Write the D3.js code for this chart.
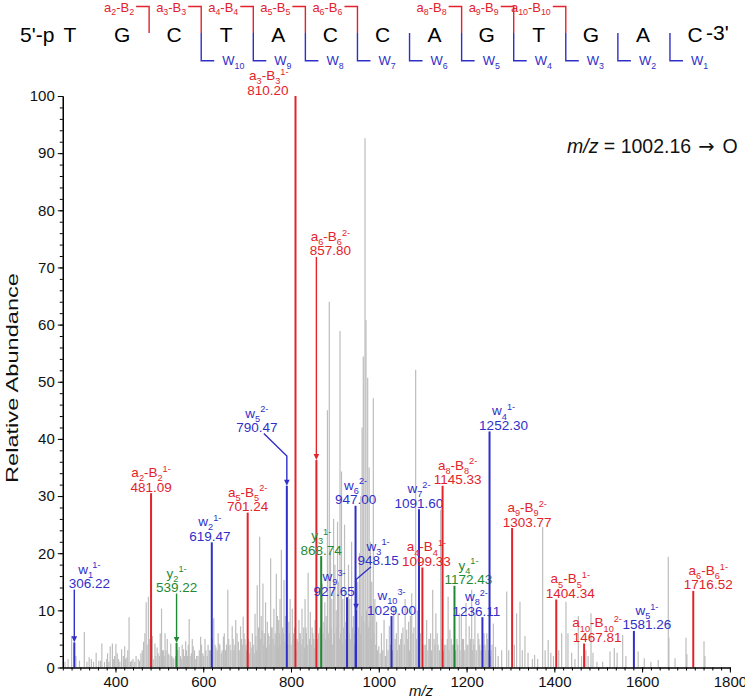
<!DOCTYPE html>
<html><head><meta charset="utf-8">
<script src="https://cdn.jsdelivr.net/npm/d3@7"></script>
<style>body{margin:0;background:#fff} svg{display:block;font-family:"Liberation Sans",Arial,sans-serif}</style>
</head><body><svg id="c" width="745" height="699"></svg>
<script>
// ---------------- data ----------------
const sequence = ["T","G","C","T","A","C","C","A","G","T","G","A","C"];
const aBreaks = [2,3,4,5,6,8,9,10];          // a_n-B_n cleavage after nucleotide n
const wBreaks = [10,9,8,7,6,5,4,3,2,1];      // w_n fragments
const xTicks = [400,600,800,1000,1200,1400,1600,1800];
const yTicks = [0,10,20,30,40,50,60,70,80,90,100];

const ionNames = ["w_{1}^{1-}","a_{2}-B_{2}^{1-}","y_{2}^{1-}","w_{2}^{1-}","a_{5}-B_{5}^{2-}","w_{5}^{2-}",
  "a_{3}-B_{3}^{1-}","a_{6}-B_{6}^{2-}","y_{3}^{1-}","w_{9}^{3-}","w_{6}^{2-}","w_{3}^{1-}","w_{10}^{3-}",
  "w_{7}^{2-}","a_{4}-B_{4}^{1-}","a_{8}-B_{8}^{2-}","y_{4}^{1-}","w_{8}^{2-}","w_{4}^{1-}","a_{9}-B_{9}^{2-}",
  "a_{5}-B_{5}^{1-}","a_{10}-B_{10}^{2-}","w_{5}^{1-}","a_{6}-B_{6}^{1-}"];
const ionMz = [306.22,481.09,539.22,619.47,701.24,790.47,810.20,857.80,868.74,927.65,947.00,948.15,1029.00,
  1091.60,1099.33,1145.33,1172.43,1236.11,1252.30,1303.77,1404.34,1467.81,1581.26,1716.52];
const ionHeights = [4.4,30.5,4.3,21.9,27.1,31.8,100,36.3,19.5,12.3,28.3,10.1,9.0,
  27.7,17.5,31.8,14.3,8.8,41.3,24.4,11.9,4.2,6.4,13.4];
const ionTypes = ["w","a","y","w","a","w","a","a","y","w","w","w","w",
  "w","a","a","y","w","w","a","a","a","w","a"];

// label placement (px offset of label from its peak, pointer levels in abundance units)
const labelLayout = [
  {dx:15, level:13.9},{dx:0},{dx:0, level:13.2},{dx:-2},{dx:0},{dx:-30, level:41.2, knee:37, lead:7},
  {dx:-7, anchor:"end"},{dx:14, level:72.1},{dx:0},{dx:-13},{dx:0},{dx:22, level:17.9, knee:15.4, lead:-7},{dx:0},
  {dx:0},{dx:4},{dx:15},{dx:14},{dx:-6},{dx:14},{dx:15},{dx:14},{dx:13},{dx:13},{dx:15}
];

// unassigned peaks [m/z, relative abundance]
const noisePeaks = [
[285,1],[292,1.5],[300,5.5],[310,2.0],[318,1.2],[329,6.2],[335,1],[340,1.8],[345,1.5],[350,1],[356,2.6],[362,1.2],[366,1.2],[369,4.2],[375,1.0],
[380,1.5],[382,2.5],[385,1],[388,3.7],[393,4.2],[395,1.5],[398,2.0],[401,4.1],[404,2.5],[407,1.5],[410,1],[414,3.2],[418,2],[421,3.7],[423,1.5],
[426,1.8],[428,3],[431,8.8],[434,1],[437,1.2],[440,1.5],[444,1.0],[447,2],[452,1.5],[455,1.2],[458,2.5],[461,3],[464,4.5],[467,6],[470,11.4],
[472,4],[475,12.4],[478,5.0],[480,3],[484,5.5],[486,1.5],[490,4.2],[492,2],[495,3.5],[497,2.5],[500,2],[502,6],[505,10.3],[507,3],[509,3],
[511,2],[513,6.0],[515,3],[518,5.0],[520,2.5],[522,2.2],[526,4.2],[528,2],[531,1.8],[533,1.5],[537,2],[542,3],[545,3.6],[548,2],[550,1.5],
[552,4],[555,3.2],[557,2],[560,4.6],[562,3],[564,2],[566,4],[568,8.5],[570,2],[573,2.5],[575,5],[577,3.7],[580,3],[583,1.5],[585,2],[588,2.0],
[591,3],[594,5.4],[596,4],[599,2.5],[601,2],[604,5.0],[606,3],[609,2],[611,4],[614,3],[617,3],[621,5],[624,8.6],[627,4],[629,3.5],[632,3],
[634,6],[636,4.2],[638,4],[641,2.5],[643,3],[646,5.4],[648,6],[651,3],[653,4],[656,13.6],[658,5],[661,4],[663,3],[666,7.2],[668,5],[670,3],
[672,4],[674,8.3],[677,6],[680,4.5],[682,3],[685,7.2],[687,5],[689,4],[691,8.9],[693,6],[695,5],[697,4],[699,3],
[701,3],[703,5],[705,2.5],[707,4.5],[709,3.5],[712,6.0],[714,4],[716,2.5],[718,9.4],[720,5.5],[721,3],[723,14.4],[725,4],[726,7],[728.5,22.9],
[730,5],[732,9],[734,6.5],[736,14.7],[738,4],[739,6],[741,5.5],[742,11.4],[744,3.5],[746,8],[748,6],[750,5.5],[752,4],[753.6,19.1],[755,7],
[757,7],[759,5],[761,10.3],[763,4],[764,6],[766.5,16.4],[767,5.5],[769,9],[771,3.5],[772,8.3],[774,6],[775,12],[777,4],[778,20.6],[780,5],
[781,7],[783,6],[784,15.3],[786,4.5],[787,9],[789,5.5],[793,4],[795,8],[796,6],[798,12],[800,4],[803,10.3],[805,5],[806,6],[808,7],[811,3],
[814,5],[816,4.5],[818,8.3],[820,6],[821,6],[823,4],[825,10.3],[827,5],[829,7],[831,3.5],[832,12],[834,7],[835,6],[837,4],[839,16.6],[842,5],
[844,9.7],[846,4],[848,7],[850,6],[852,5],[853,3.5],[855,8.3],[858,4],[861,5],[863,6],[866,7],[869,4],[871,14.7],[873,6],[875,8],[877,11.4],
[879,5],[880,9],[882,7],[883,45],[885,6],[887.2,64],[888,5],[890,20],[892,7],[893,12],[895,4],[897,26],[899,6],[900,18],[903,10],[905,7],
[906,25.5],[908,15],[910,5],[911.6,58.9],[913,6],[915,34.3],[917,4],[918,12],[920,7],[922,25],[924,5],[925,8],[928,4],[931,18],[933,6],
[934,12],[936,5],[938,22],[940,7],[942,9],[944,4],[946,6],[950,5],[952,15],[954,7],[956,20],[958,6],[959,30],[961,9],[962,42],[964.7,54.4],
[966,8],[968.6,92.6],[970.8,60.8],[972,10],[974.7,50.7],[976,7],[978,35],[980,8],[981,22],[983,5],[984,15],[986,9],[987.5,47.1],[989,6],
[991,12],[993,4],[995,8],[997,3],[1000,3.7],[1003,2.5],[1006,6],[1009,3],[1012,8.3],[1015,2],[1018,5],[1021,3],[1024,7.3],[1027,4],[1031,3],
[1034,10.7],[1037,5],[1040,6],[1042,3],[1044,9.5],[1047,4],[1050,5],[1052,6],[1055,7],[1058,4],[1060,12],[1063.6,6.6],[1066,5],[1068,8],
[1070,3],[1072,9],[1075,13],[1078,6],[1080,7],[1084,52.1],[1086,5],[1088,10],[1092,4],[1095,6],[1100,3],[1103,4],[1106,4],[1109,8.3],
[1112,3],[1114,5],[1116,5],[1118,6],[1120,3],[1122.8,13.6],[1126,5],[1128,4],[1130,9.5],[1133,6],[1135,4],[1138,3],[1141,27.6],[1144,5],
[1148,3],[1150,4],[1153,4],[1156,5],[1158,12.4],[1160,3],[1162,6.6],[1165,5],[1167,4],[1170,4],[1175,3],[1178,5],[1180,4],[1183.4,9.5],
[1185,3],[1188,9],[1191,5],[1193,5],[1196,3],[1198.7,11.3],[1201,4],[1203,4],[1206,7.2],[1209,5],[1211.6,13.6],[1213,3],[1215,5],[1217,4],
[1219,9.5],[1222,3],[1226,6],[1228,5],[1230,4],[1233,3],[1238,4],[1240,6],[1242,4],[1244,3],[1246,6],[1248,5],[1250,3],[1254,2],[1256,3],
[1258,4],[1261,7.7],[1266,3.6],[1272,2],[1280,3],[1291.4,13.3],[1296,3],[1309,4],[1314,9.5],[1321.7,11.5],[1327,3],[1333,5.5],[1340,2.6],
[1350,1.5],[1355,2.2],[1362,1.5],[1373.4,24.6],[1379,3],[1386,4.8],[1392,2.6],[1398,2],[1410,3],[1416.7,6],[1426.5,11.5],[1431,6],
[1439.4,2.6],[1447,1.5],[1454.6,9],[1462,2],[1472,3],[1477,2],[1483.5,9.5],[1488,2.6],[1497,1],[1510,1],[1526.8,2.8],[1536.6,3.4],
[1543,2.6],[1555.7,5.7],[1563,2],[1591,2.8],[1604.9,1.6],[1620,1],[1636.8,1.3],[1659.6,19.4],[1661,5.2],[1675,1.6],[1700,5.2],[1702,2.3],
[1741,4.6],[1743,2]
];

// ---------------- drawing ----------------
const colors = {a:"#e3232b", w:"#2f2fc9", y:"#1f8a33"};
const svg = d3.select("#c");
const x = d3.scaleLinear().domain([280,1800]).range([62.8,729.9]);
const y = d3.scaleLinear().domain([0,100]).range([667.5,96]);
const fmt = d3.format(".2f");

function rich(t, s, fs){
  let off = 0;
  const re = /_\{([^}]*)\}|\^\{([^}]*)\}|([^_^]+)/g; let m;
  while((m = re.exec(s))){
    let target, txt, size;
    if(m[1]!==undefined){target=fs*0.3; txt=m[1]; size=fs*0.68;}
    else if(m[2]!==undefined){target=-fs*0.4; txt=m[2]; size=fs*0.68;}
    else {target=0; txt=m[3]; size=fs;}
    t.append("tspan").attr("dy", (target-off).toFixed(2)).attr("font-size", size).text(txt);
    off = target;
  }
}

// header: sequence with cleavage brackets
const sx = d3.scaleLinear().domain([0,12]).range([70,695]);
const hdr = svg.append("g");
hdr.append("text").attr("x",20).attr("y",42).attr("font-size",21).text("5'-p");
hdr.selectAll("text.nt").data(sequence).join("text").attr("class","nt")
  .attr("x",(d,i)=>sx(i)).attr("y",42).attr("text-anchor","middle").attr("font-size",21).text(d=>d);
hdr.append("text").attr("x",sx(12)+11).attr("y",40).attr("font-size",21).text("-3'");
const brk = i => (sx(i-1)+sx(i))/2 + 1;   // position between nucleotide i-1 and i (0-based)
aBreaks.forEach(n=>{
  const bx = brk(n);
  hdr.append("path").attr("d",`M${bx-13},6.5H${bx}V33`).attr("fill","none").attr("stroke",colors.a).attr("stroke-width",1.4);
  const t = hdr.append("text").attr("x",bx-15).attr("y",11.5).attr("text-anchor","end").attr("fill",colors.a);
  rich(t, `a_{${n}}-B_{${n}}`, 13);
});
wBreaks.forEach(n=>{
  const bx = brk(13-n);
  hdr.append("path").attr("d",`M${bx},33V60.7H${bx+13}`).attr("fill","none").attr("stroke",colors.w).attr("stroke-width",1.4);
  const t = hdr.append("text").attr("x",bx+21).attr("y",65).attr("fill",colors.w);
  rich(t, `W_{${n}}`, 13);
});

// noise peaks
svg.append("g").selectAll("line").data(noisePeaks).join("line")
  .attr("x1",d=>x(d[0])).attr("x2",d=>x(d[0])).attr("y1",y(0)).attr("y2",d=>y(d[1]))
  .attr("stroke","#bdbdbd").attr("stroke-width",1.2);

// assigned peaks
const ions = ionMz.map((m,i)=>({mz:m, h:ionHeights[i], name:ionNames[i], type:ionTypes[i], L:labelLayout[i]}));
const gi = svg.append("g");
ions.forEach(d=>{
  const c = colors[d.type], px = x(d.mz), top = y(d.h);
  gi.append("line").attr("x1",px).attr("x2",px).attr("y1",y(0)).attr("y2",top).attr("stroke",c).attr("stroke-width",2);
  const L = d.L;
  const base = L.level!==undefined ? y(L.level) : top - 1.5;
  const lx = px + L.dx;
  if(L.level!==undefined){
    let dpath;
    if(L.knee!==undefined){
      dpath = `M${lx+L.lead},${base+1.5}L${px},${y(L.knee)}V${top-5}`;
    } else {
      dpath = `M${px},${base+1.5}V${top-5}`;
    }
    gi.append("path").attr("d",dpath).attr("fill","none").attr("stroke",c).attr("stroke-width",1.4);
    gi.append("path").attr("d",`M${px-2.8},${top-6}L${px+2.8},${top-6}L${px},${top}Z`).attr("fill",c);
  }
  const anchor = L.anchor || "middle";
  const t1 = gi.append("text").attr("x",lx).attr("y",base-14.5).attr("text-anchor",anchor).attr("fill",c);
  rich(t1, d.name, 13.5);
  gi.append("text").attr("x",lx).attr("y",base).attr("text-anchor",anchor).attr("fill",c).attr("font-size",13.5).text(fmt(d.mz));
});

// axes
const ax = svg.append("g").attr("transform",`translate(0,${y(0)})`);
ax.call(d3.axisBottom(x).tickValues(d3.range(280,1801,20)).tickSize(3).tickFormat("").tickSizeOuter(0));
ax.append("g").call(d3.axisBottom(x).tickValues(xTicks).tickSize(5).tickPadding(4).tickSizeOuter(0).tickFormat(d3.format("d")));
const ay = svg.append("g").attr("transform",`translate(${x(280)},0)`);
ay.call(d3.axisLeft(y).tickValues(d3.range(0,101,2)).tickSize(3).tickFormat("").tickSizeOuter(0));
ay.append("g").call(d3.axisLeft(y).tickValues(yTicks).tickSize(5).tickPadding(3).tickSizeOuter(0).tickFormat(d3.format("d")));
svg.selectAll(".domain").attr("stroke","#000").attr("stroke-width",1.2);
svg.selectAll(".tick line").attr("stroke","#000");
svg.selectAll(".tick text").attr("font-size",15).attr("fill","#111").attr("font-family","Liberation Sans, Arial, sans-serif");

// titles
svg.append("text").attr("transform",`translate(18,378) rotate(-90)`).attr("text-anchor","middle")
  .attr("font-size",16).attr("textLength",210).attr("lengthAdjust","spacingAndGlyphs")
  .attr("fill","#111").text("Relative Abundance");
svg.append("text").attr("x",421).attr("y",696).attr("text-anchor","middle").attr("font-size",15)
  .attr("font-style","italic").attr("fill","#111").text("m/z");
const ann = svg.append("text").attr("x",567).attr("y",153).attr("font-size",19.5).attr("fill","#111");
ann.append("tspan").attr("font-style","italic").text("m/z");
ann.append("tspan").text(" = 1002.16");
ann.append("tspan").attr("dx",7).attr("font-family","DejaVu Sans").attr("font-size",19.5).text("\u2192");
ann.append("tspan").attr("dx",8).text("O");
</script></body></html>
